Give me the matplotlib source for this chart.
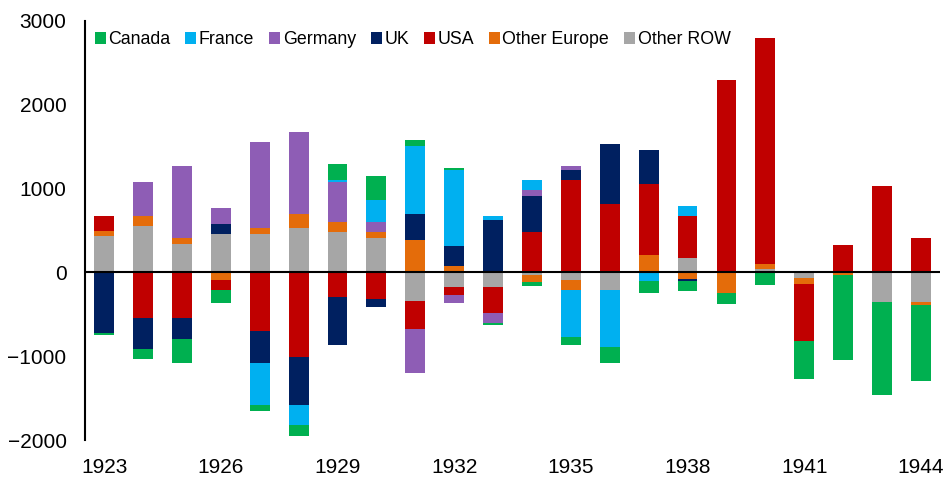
import matplotlib
matplotlib.use("Agg")
import matplotlib.pyplot as plt
from matplotlib.patches import Patch
import numpy as np

plt.rcParams['font.family'] = ['Liberation Sans', 'DejaVu Sans']

years = list(range(1923, 1945))
series_names = ["Canada", "France", "Germany", "UK", "USA", "Other Europe", "Other ROW"]
colors = {"Canada": "#00B050", "France": "#00B0F0", "Germany": "#8E5DB5", "UK": "#002060",
          "USA": "#C00000", "Other Europe": "#E46C0A", "Other ROW": "#A6A6A6"}

canada = [-20, -119, -286, -163, -68, -135, 191, 282, 72, 24, -24, -45, -95, -191, -147, -123, -123, -155, -453, -1020, -1116, -902]
france = [0, 0, 0, 0, -505, -242, 24, 262, 806, 902, 48, 119, -568, -687, -103, 119, 0, 0, 0, 0, 0, 0]
germany = [0, 405, 858, 191, 1021, 973, 473, 119, -528, -99, -115, 72, 48, 0, 0, 0, 0, 0, 0, 0, 0, 0]
uk = [-725, -377, -258, 119, -377, -568, -572, -95, 310, 242, 624, 429, 119, 715, 405, -24, 0, 0, 0, 0, 0, 0]
usa = [190, -540, -540, -119, -703, -1013, -298, -322, -330, -95, -314, 481, 1100, 814, 850, 497, 2289, 2690, -687, 322, 1029, 413]
other_europe = [52, 120, 72, -87, 72, 171, 119, 72, 389, 75, 0, -90, -119, 0, 203, -79, -250, 60, -72, -30, 0, -44]
other_row = [435, 550, 342, 461, 461, 528, 485, 413, -346, -175, -175, -30, -87, -207, 0, 175, 0, 40, -64, 0, -350, -350]

data = {"Canada": canada, "France": france, "Germany": germany, "UK": uk,
        "USA": usa, "Other Europe": other_europe, "Other ROW": other_row}

stack_order = ["Other ROW", "Other Europe", "USA", "UK", "Germany", "France", "Canada"]

fig = plt.figure(figsize=(9.48, 4.79), dpi=100)
ax = fig.add_axes([0.0893, 0.0814, 0.9027, 0.8754])

x = np.arange(len(years))
pos_base = np.zeros(len(years))
neg_base = np.zeros(len(years))
width = 0.51
for name in stack_order:
    v = np.array(data[name], dtype=float)
    pos = np.where(v > 0, v, 0)
    neg = np.where(v < 0, v, 0)
    ax.bar(x, pos, width, bottom=pos_base, color=colors[name], edgecolor='none', zorder=2)
    ax.bar(x, neg, width, bottom=neg_base, color=colors[name], edgecolor='none', zorder=2)
    pos_base += pos
    neg_base += neg

ax.axhline(0, color='black', linewidth=1.5, zorder=3)
ax.set_xlim(-0.5, len(years) - 0.5)
ax.set_ylim(-2000, 3000)
ax.set_yticks([-2000, -1000, 0, 1000, 2000, 3000])
tick_idx = list(range(0, len(years), 3))
ax.set_xticks(tick_idx)
ax.set_xticklabels([str(years[i]) for i in tick_idx])
ax.tick_params(axis='both', length=0, labelsize=15)
ax.tick_params(axis='y', pad=13)
ax.tick_params(axis='x', pad=13)
for s in ['top', 'right', 'bottom']:
    ax.spines[s].set_visible(False)
ax.spines['left'].set_linewidth(1.5)

handles = [Patch(facecolor=colors[n], edgecolor='none', label=n) for n in series_names]
ax.legend(handles=handles, loc='upper left', bbox_to_anchor=(0.012, 0.975), ncol=7,
          frameon=False, fontsize=12.8, handlelength=0.6, handleheight=0.6,
          handletextpad=0.15, columnspacing=0.85, borderpad=0, borderaxespad=0)

fig.savefig("out.png", dpi=100)
